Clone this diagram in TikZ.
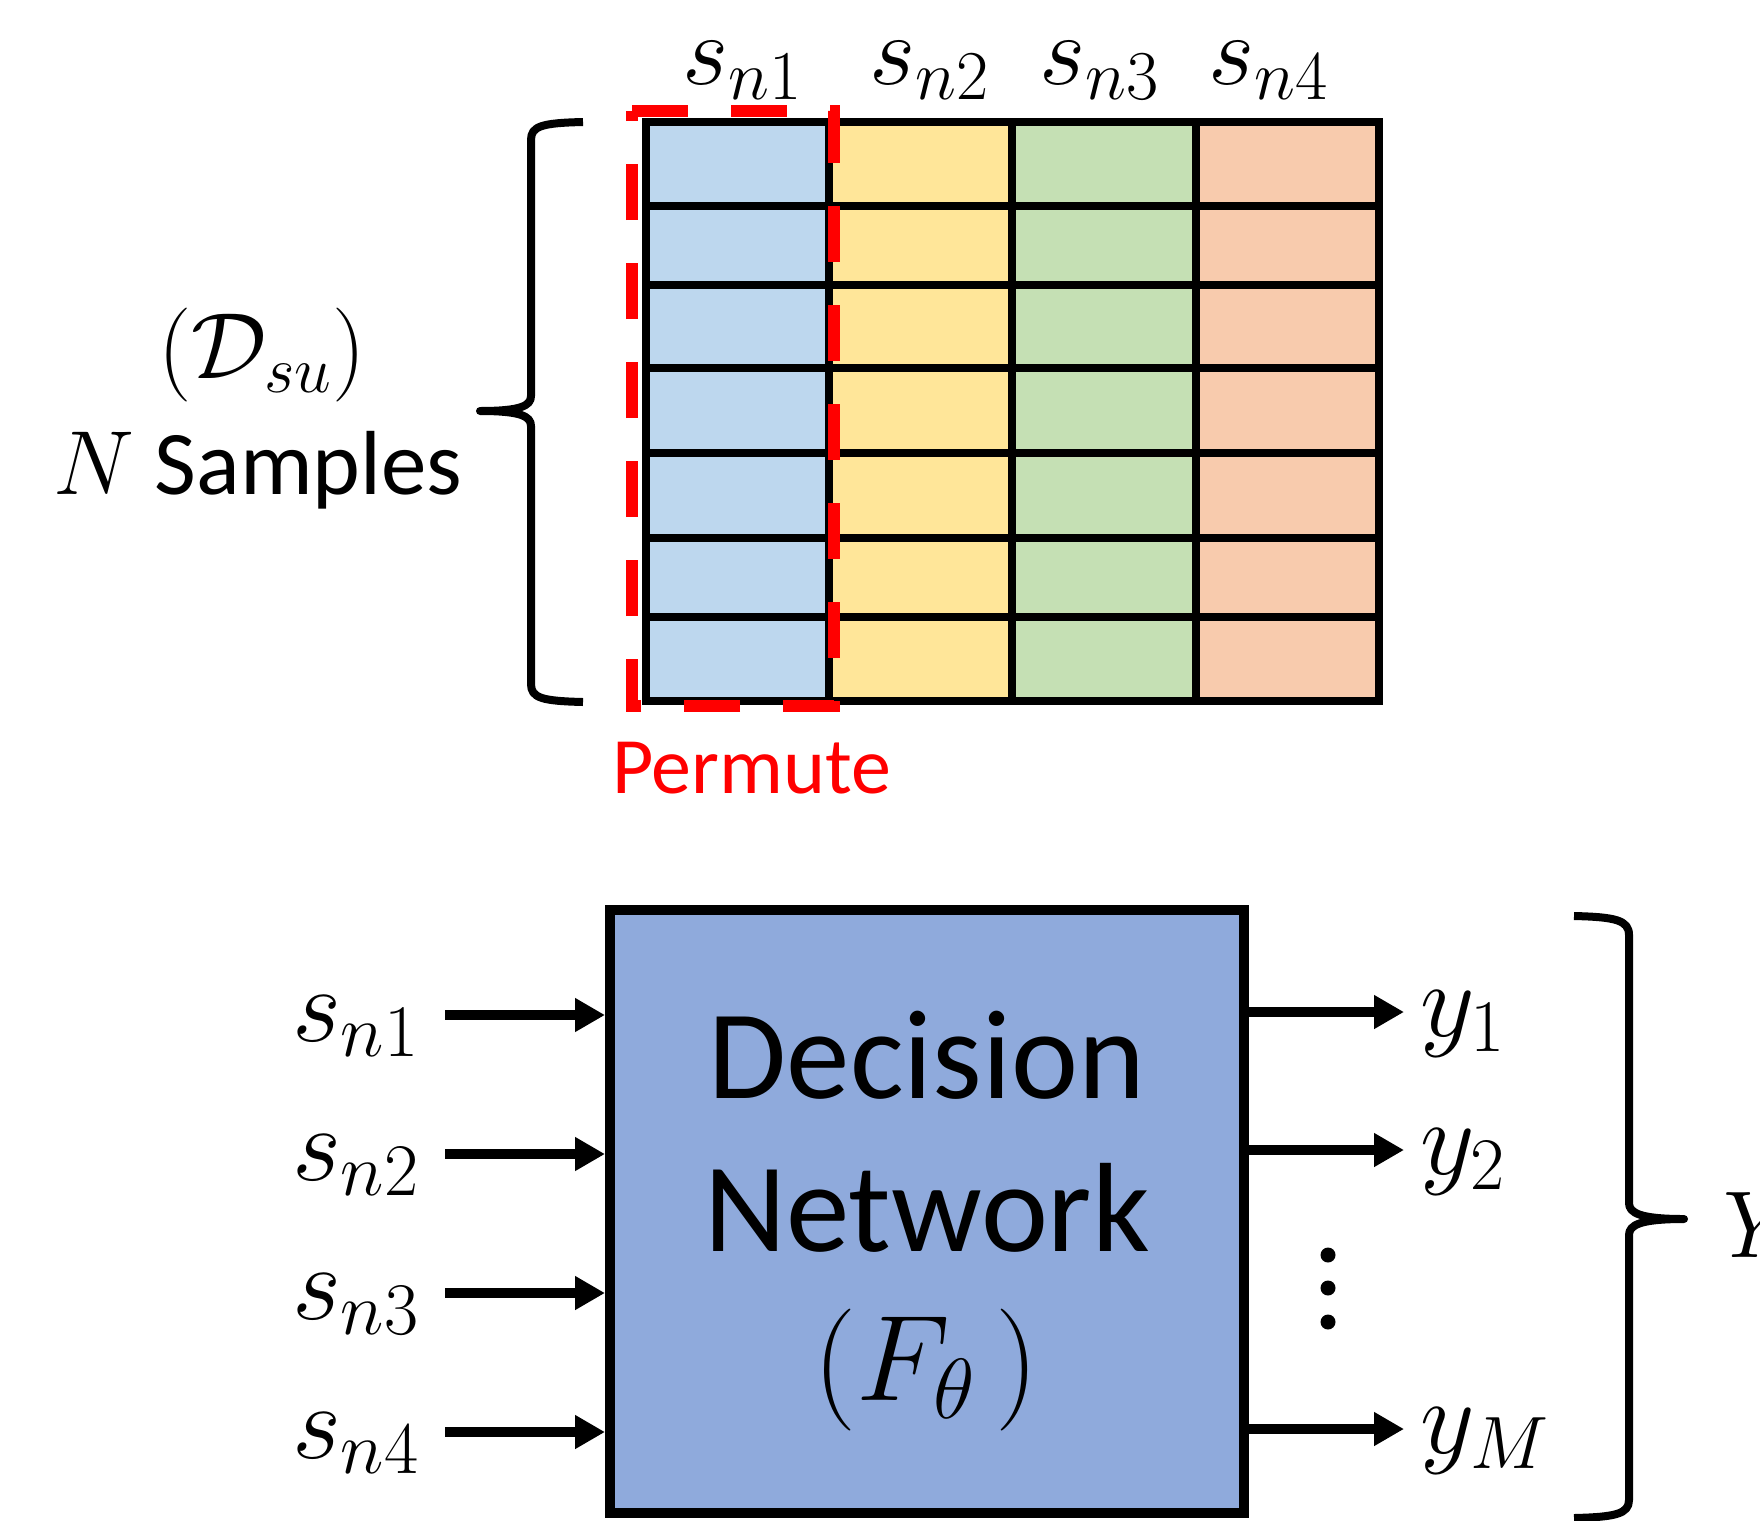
\RequirePackage{fix-cm}
\documentclass[tikz,border=0pt]{standalone}
\usepackage[no-math]{fontspec}
\setmainfont{Carlito}
\usetikzlibrary{arrows.meta}
\definecolor{cblue}{HTML}{BDD7EE}
\definecolor{cyellow}{HTML}{FFE699}
\definecolor{cgreen}{HTML}{C5E0B4}
\definecolor{corange}{HTML}{F8CBAD}
\definecolor{netblue}{HTML}{8FAADC}
\definecolor{pred}{HTML}{FF0000}
\begin{document}
\begin{tikzpicture}[x=1pt,y=-1pt,
  grid/.style={line width=8pt, line join=miter, black},
  permbox/.style={pred, line width=12pt, line cap=butt, line join=miter, dash pattern=on 56pt off 43pt},
  brace/.style={line width=8pt, line join=round},
  arr/.style={line width=10pt, -{Triangle[length=30pt,width=32pt]}},
  lbl/.style={inner sep=0pt, outer sep=0pt},
  collbl/.style={lbl, anchor=base, font=\fontsize{100}{100}\selectfont},
  inlbl/.style={lbl, anchor=base west, font=\fontsize{106}{106}\selectfont},
  boxtext/.style={lbl, anchor=base, font=\fontsize{127}{130}\selectfont},
  dot/.style={circle, fill=black, inner sep=0pt, minimum size=15pt}]
\clip (0,0) rectangle (1760,1520);

% table
\fill[cblue]   (646,122) rectangle (829,701);
\fill[cyellow] (829,122) rectangle (1012,701);
\fill[cgreen]  (1012,122) rectangle (1196,701);
\fill[corange] (1196,122) rectangle (1379,701);
\foreach \yy in {206,285,368,453,538,617}
  \draw[grid] (646,\yy) -- (1379,\yy);
\foreach \xx in {829,1012,1196}
  \draw[grid] (\xx,122) -- (\xx,701);
\draw[grid] (646,122) rectangle (1379,701);

% permute dashed frame
\draw[permbox] (632,111) -- (834,111) -- (834,706) -- (632,706) -- cycle;

% column labels
\node[collbl] (c1) at (742,84) {$s_{n1}$};
\node[collbl] (c2) at (929,84) {$s_{n2}$};
\node[collbl] (c3) at (1099,84) {$s_{n3}$};
\node[collbl] (c4) at (1268,84) {$s_{n4}$};

% left brace and label
\draw[brace] (583,122) .. controls (542,123) and (531,126) .. (531,140) -- (531,396)
  .. controls (531,406) and (520,411) .. (480,411)
  .. controls (520,411) and (531,416) .. (531,426) -- (531,684)
  .. controls (531,698) and (542,701) .. (583,702);
\node[lbl, anchor=base, font=\fontsize{94}{94}\selectfont] (dsu) at (262,378) {$(\mathcal{D}_{su})$};
\node[lbl, anchor=base, font=\fontsize{91}{91}\selectfont] (ns) at (258,494) {$N$ Samples};

\node[lbl, anchor=base west, text=pred, font=\fontsize{80}{80}\selectfont] (perm) at (612,793) {Permute};

% decision network
\node[draw=black, line width=10pt, fill=netblue, minimum width=634pt, minimum height=603pt, inner sep=0pt] (box) at (927,1211.5) {};
\node[boxtext] (t1) at (927,1098) {Decision};
\node[boxtext] (t2) at (927,1251) {Network};
\node[lbl, anchor=base, font=\fontsize{122}{122}\selectfont] (t3) at (926,1400) {$(F_\theta\,)$};

% inputs
\foreach \i/\yy in {1/1015,2/1154,3/1293,4/1432} {
  \node[inlbl] (in\i) at (292,\yy+26) {$s_{n\i}$};
  \coordinate (a\i) at (445,\yy);
  \draw[arr] (a\i) -- (a\i -| box.west);
}

% outputs
\foreach \n/\yy in {1/1012,2/1150,M/1429} {
  \coordinate (o\n) at (1404,\yy);
  \draw[arr] (o\n -| box.east) -- (o\n);
  \node[inlbl] (y\n) at (1420,\yy+24) {$y_{\n}$};
}
\node[dot] (d1) at (1328,1255) {};
\node[dot] (d2) at (1328,1288) {};
\node[dot] (d3) at (1328,1322) {};

% right brace and Y
\draw[brace] (1574,916) .. controls (1615,917) and (1629,920) .. (1629,935) -- (1629,1203)
  .. controls (1629,1213) and (1640,1219) .. (1684,1219)
  .. controls (1640,1219) and (1629,1225) .. (1629,1235) -- (1629,1500)
  .. controls (1629,1514) and (1615,1517) .. (1574,1518);
\node[lbl, anchor=base west, font=\fontsize{95}{95}\selectfont] (Y) at (1723,1257) {$Y$};
\end{tikzpicture}
\end{document}
